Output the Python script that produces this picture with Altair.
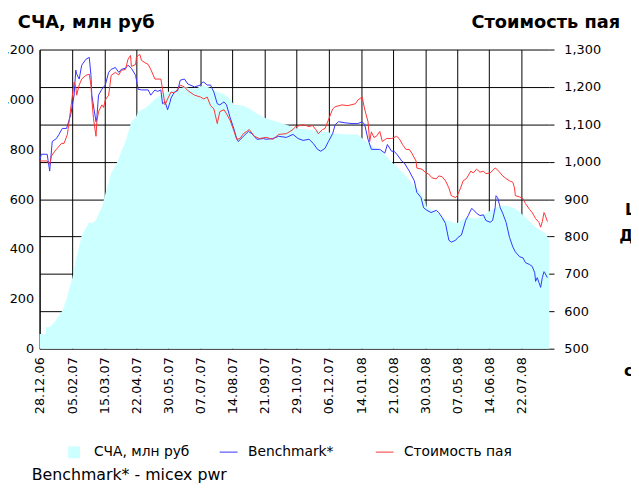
import altair as alt
import pandas as pd

START = "2006-12-28"
END_DATE = (2008, 8, 24)

TICK_LABELS = ["28.12.06", "05.02.07", "15.03.07", "22.04.07", "30.05.07", "07.07.07",
               "14.08.07", "21.09.07", "29.10.07", "06.12.07", "14.01.08", "21.02.08",
               "30.03.08", "07.05.08", "14.06.08", "22.07.08"]

LEFT_TICKS = [0, 200, 400, 600, 800, 1000, 1200]
RIGHT_TICKS = [500, 600, 700, 800, 900, 1000, 1100, 1200, 1300]

SERIES_NAV = "СЧА, млн руб"
SERIES_BENCH = "Benchmark*"
SERIES_PRICE = "Стоимость пая"

# days since 28.12.2006
NAV_DAYS = [0, 7, 8, 12, 18, 23, 27, 32, 35, 39, 43, 47, 50, 55, 59, 62, 67, 70, 74, 78,
            82, 85, 90, 94, 97, 102, 105, 109, 114, 117, 121, 125, 132, 137, 144, 152, 160, 172, 184, 195,
            203, 211, 219, 226, 231, 242, 249, 261, 269, 281, 293, 304, 320, 336, 351, 366, 378, 386, 398, 406,
            421, 433, 445, 453, 460, 472, 483, 495, 507, 519, 530, 542, 554, 565, 577, 589, 600, 605]
NAV_VALUES = [59, 59, 87, 87, 107, 132, 152, 198, 238, 285, 356, 409, 455, 483, 508, 502, 515, 542, 567, 620,
              667, 706, 733, 762, 792, 830, 865, 911, 925, 950, 958, 963, 985, 1002, 1018, 1030, 1038, 1050, 1042, 1057,
              1045, 1030, 1022, 1002, 978, 975, 963, 937, 923, 911, 898, 884, 878, 871, 863, 859, 859, 835, 806, 792,
              740, 701, 653, 626, 567, 547, 515, 502, 527, 522, 542, 567, 574, 562, 527, 487, 463, 440]

BENCH_DAYS = [0, 2, 9, 12, 15, 20, 23, 27, 32, 37, 41, 43, 44, 47, 50, 55, 59, 61, 62, 67,
              68, 70, 74, 78, 82, 85, 90, 94, 97, 102, 105, 109, 114, 117, 121, 129, 132, 137, 140, 144,
              146, 149, 152, 155, 156, 160, 164, 167, 172, 176, 184, 191, 193, 195, 199, 203, 207, 211, 214, 219,
              222, 226, 231, 234, 236, 242, 248, 252, 258, 266, 269, 277, 284, 293, 301, 307, 313, 320, 325, 330,
              334, 339, 343, 348, 351, 355, 363, 371, 378, 383, 386, 390, 394, 404, 410, 413, 418, 421, 425, 430,
              433, 439, 442, 445, 448, 453, 456, 460, 465, 471, 474, 478, 482, 486, 489, 494, 497, 501, 506, 509,
              513, 515, 519, 523, 527, 530, 535, 538, 541, 542, 544, 547, 550, 554, 558, 562, 565, 570, 574, 577,
              582, 585, 588, 589, 591, 593, 595, 597, 599, 600, 603]
BENCH_VALUES = [1002, 1020, 1020, 975, 1054, 1062, 1073, 1089, 1089, 1126, 1178, 1245, 1235, 1221, 1258, 1274, 1279, 1231, 1178, 1107,
                1118, 1178, 1194, 1205, 1239, 1247, 1252, 1239, 1247, 1250, 1258, 1250, 1231, 1194, 1192, 1192, 1178, 1192, 1188, 1192,
                1155, 1160, 1139, 1160, 1170, 1186, 1190, 1218, 1221, 1208, 1200, 1205, 1212, 1213, 1205, 1205, 1186, 1155, 1152, 1160,
                1152, 1120, 1086, 1062, 1054, 1068, 1081, 1075, 1060, 1062, 1060, 1062, 1068, 1065, 1073, 1062, 1057, 1060, 1049, 1033,
                1028, 1036, 1054, 1075, 1099, 1107, 1104, 1102, 1102, 1107, 1100, 1060, 1033, 1033, 1023, 1046, 1028, 1028, 1018, 1002,
                997, 975, 962, 949, 918, 904, 877, 870, 864, 870, 864, 851, 835, 790, 785, 790, 798, 804, 843, 856,
                875, 872, 862, 856, 858, 843, 838, 843, 877, 909, 904, 877, 862, 838, 798, 772, 759, 746, 743, 730,
                725, 720, 703, 680, 690, 677, 664, 690, 706, 703, 690]

PRICE_DAYS = [0, 9, 12, 14, 18, 21, 26, 29, 33, 35, 39, 41, 43, 44, 47, 50, 55, 59, 61, 62,
              64, 67, 68, 70, 74, 76, 78, 82, 85, 90, 94, 97, 102, 105, 108, 109, 114, 115, 117, 119,
              121, 125, 129, 132, 137, 144, 146, 149, 152, 156, 160, 164, 167, 172, 176, 184, 191, 195, 199, 203,
              207, 211, 214, 219, 222, 226, 231, 234, 238, 242, 246, 249, 255, 261, 269, 277, 284, 293, 301, 304,
              313, 320, 324, 328, 331, 336, 339, 343, 348, 351, 359, 366, 375, 378, 383, 386, 390, 392, 394, 397,
              400, 404, 407, 412, 418, 424, 427, 431, 435, 439, 442, 447, 448, 454, 459, 462, 466, 471, 474, 478,
              482, 486, 489, 494, 496, 500, 503, 507, 512, 515, 519, 523, 527, 530, 535, 541, 543, 547, 550, 554,
              558, 562, 564, 565, 570, 574, 577, 582, 585, 589, 593, 595, 597, 599, 600, 603]
PRICE_VALUES = [1002, 1002, 993, 1015, 1028, 1036, 1049, 1049, 1073, 1107, 1178, 1213, 1200, 1178, 1205, 1221, 1231, 1234, 1205, 1168,
                1115, 1068, 1107, 1134, 1152, 1145, 1165, 1178, 1231, 1239, 1232, 1244, 1247, 1274, 1284, 1255, 1260, 1279, 1284, 1287,
                1271, 1265, 1260, 1247, 1221, 1221, 1194, 1152, 1168, 1186, 1184, 1194, 1205, 1200, 1190, 1178, 1173, 1168, 1173, 1150,
                1141, 1102, 1134, 1139, 1128, 1112, 1081, 1060, 1062, 1075, 1081, 1086, 1068, 1062, 1065, 1060, 1073, 1075, 1086, 1094,
                1099, 1094, 1097, 1086, 1075, 1086, 1089, 1112, 1141, 1147, 1152, 1150, 1155, 1165, 1173, 1141, 1107, 1054, 1080, 1065,
                1068, 1081, 1054, 1062, 1062, 1068, 1062, 1046, 1033, 1033, 1023, 1002, 983, 980, 970, 967, 957, 954, 962, 960,
                949, 930, 909, 904, 909, 930, 949, 955, 975, 970, 980, 972, 975, 968, 970, 983, 980, 970, 962, 955,
                949, 945, 930, 909, 906, 901, 888, 872, 864, 848, 838, 825, 840, 864, 860, 840]

FONT = "DejaVu Sans"


def to_dates(days):
    return pd.Timestamp(START) + pd.to_timedelta(days, unit="D")


def dt(label):
    d, m, y = label.split(".")
    return alt.DateTime(year=2000 + int(y), month=int(m), date=int(d))


nav_df = pd.DataFrame({"date": to_dates(NAV_DAYS), "value": NAV_VALUES, "series": SERIES_NAV})
bench_df = pd.DataFrame({"date": to_dates(BENCH_DAYS), "value": BENCH_VALUES, "series": SERIES_BENCH})
price_df = pd.DataFrame({"date": to_dates(PRICE_DAYS), "value": PRICE_VALUES, "series": SERIES_PRICE})

x_enc = alt.X(
    "date:T",
    title=None,
    scale=alt.Scale(domain=[dt(TICK_LABELS[0]), alt.DateTime(year=END_DATE[0], month=END_DATE[1], date=END_DATE[2])]),
    axis=alt.Axis(values=[dt(t) for t in TICK_LABELS], format="%d.%m.%y", labelAngle=-90,
                  grid=True, gridColor="#000000", gridWidth=1, domain=False, ticks=False, tickSize=0,
                  labelPadding=8, labelFontSize=13, labelFont=FONT, labelColor="#000000",
                  labelOverlap=False, labelFlush=False),
)

area = alt.Chart(nav_df).mark_area(opacity=1, interpolate="linear").encode(
    x=x_enc,
    y=alt.Y("value:Q", title=None,
            scale=alt.Scale(domain=[0, 1200], nice=False, zero=False),
            axis=alt.Axis(orient="left", values=LEFT_TICKS, format=",.0f", grid=False, ticks=False, tickSize=0,
                          domain=True, domainColor="#000000", domainWidth=1,
                          labelPadding=6, labelFontSize=13, labelFont=FONT, labelColor="#000000")),
    fill=alt.Fill("series:N", scale=alt.Scale(domain=[SERIES_NAV], range=["#CCFFFF"]),
                  legend=alt.Legend(orient="none", legendX=28, legendY=401, direction="horizontal", title=None,
                                    symbolType="square", symbolSize=144, symbolStrokeWidth=0, symbolOpacity=1,
                                    labelFontSize=14, labelFont=FONT, labelColor="#000000", labelOffset=13,
                                    padding=0)),
)

y_right = alt.Y("value:Q", title=None,
                scale=alt.Scale(domain=[500, 1300], nice=False, zero=False),
                axis=alt.Axis(orient="right", values=RIGHT_TICKS, format=",.0f", grid=True, gridColor="#000000",
                              gridWidth=1, ticks=True, tickSize=5, tickColor="#000000", domain=False,
                              labelPadding=10, labelFontSize=13, labelFont=FONT, labelColor="#000000"))

stroke_enc = alt.Stroke("series:N",
                        scale=alt.Scale(domain=[SERIES_BENCH, SERIES_PRICE], range=["#3333FF", "#FF3333"]),
                        legend=alt.Legend(orient="none", legendX=182, legendY=398, direction="horizontal",
                                          title=None, symbolType="stroke", symbolSize=324, symbolStrokeWidth=1,
                                          labelFontSize=14, labelFont=FONT, labelColor="#000000",
                                          labelOffset=10, columnPadding=40, padding=0))

bench_line = alt.Chart(bench_df).mark_line(strokeWidth=1).encode(x=x_enc, y=y_right, stroke=stroke_enc)
price_line = alt.Chart(price_df).mark_line(strokeWidth=1).encode(x=x_enc, y=y_right, stroke=stroke_enc)
lines = alt.layer(bench_line, price_line)


def text_mark(txt, x, y, size, bold=False, align="left"):
    return alt.Chart(pd.DataFrame({"t": [txt]})).mark_text(
        align=align, baseline="middle", fontSize=size, font=FONT,
        fontWeight="bold" if bold else "normal", color="#000000"
    ).encode(x=alt.value(x), y=alt.value(y), text="t:N")


texts = [
    text_mark("СЧА, млн руб", -22, -27, 18, bold=True),
    text_mark("Стоимость пая", 588, -27, 18, bold=True, align="right"),
    text_mark("Benchmark* - micex pwr", -8, 431, 16),
    text_mark("L", 593, 163, 16, bold=True),
    text_mark("Д", 587, 189, 16, bold=True),
    text_mark("с", 592, 326, 16, bold=True),
]

chart = alt.layer(area, lines, *texts).resolve_scale(y="independent").properties(
    width=516, height=303,
    autosize=alt.AutoSizeParams(type="none"),
    padding={"left": 32, "top": 39, "right": 83, "bottom": 136},
    background="#FFFFFF",
).configure_view(stroke=None)

chart.save("out.html", embed_options={"renderer": "svg", "actions": False})
